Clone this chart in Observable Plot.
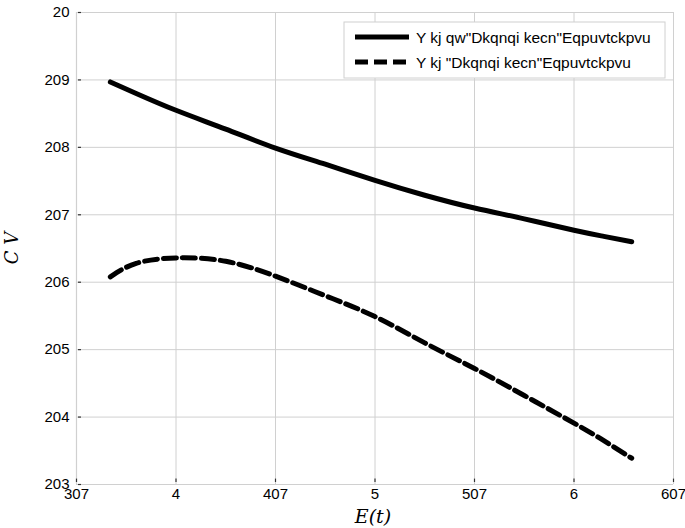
<!DOCTYPE html>
<html>
<head>
<meta charset="utf-8">
<script src="https://cdn.jsdelivr.net/npm/d3@7"></script>
<script src="https://cdn.jsdelivr.net/npm/@observablehq/plot@0.6"></script>
<style>
html,body{margin:0;padding:0;background:#fff;}
#chart{width:685px;height:528px;}
</style>
</head>
<body>
<div id="chart"></div>
<script>
// x values (shared by both series)
const xs = [3.67, 3.8, 4.0, 4.25, 4.5, 4.75, 5.0, 5.25, 5.5, 5.75, 6.0, 6.15, 6.29];
// series values
const withoutBio = [0.897, 0.880, 0.855, 0.827, 0.799, 0.775, 0.751, 0.729, 0.710, 0.694, 0.677, 0.668, 0.660];
const withBio    = [0.608, 0.628, 0.636, 0.631, 0.609, 0.580, 0.549, 0.510, 0.472, 0.432, 0.391, 0.365, 0.339];
const seriesNames = ["Y kj qw\"Dkqnqi kecn\"Eqpuvtckpvu", "Y kj \"Dkqnqi kecn\"Eqpuvtckpvu"];
// ticks and their labels (as printed)
const xTicks = [3.5, 4, 4.5, 5, 5.5, 6, 6.5];
const xTickLabels = ["307", "4", "407", "5", "507", "6", "607"];
const yTicks = [0.3, 0.4, 0.5, 0.6, 0.7, 0.8, 0.9, 1.0];
const yTickLabels = ["203", "204", "205", "206", "207", "208", "209", "20"];
const xLabel = "E(t)";
const yLabel = "C V";

const rows = [];
xs.forEach((x, i) => {
  rows.push({x, y: withoutBio[i], s: seriesNames[0]});
  rows.push({x, y: withBio[i], s: seriesNames[1]});
});

const fmt = (ticks, labels) => v => { const i = ticks.findIndex(t => Math.abs(t - v) < 1e-9); return i >= 0 ? labels[i] : ""; };

const plot = Plot.plot({
  width: 685,
  height: 528,
  marginLeft: 76,
  marginRight: 12,
  marginTop: 12,
  marginBottom: 44,
  style: {fontFamily: "'Liberation Sans', Arial, sans-serif", fontSize: "15px", color: "#000", background: "#fff"},
  x: {type: "linear", domain: [3.5, 6.5], label: null},
  y: {type: "linear", domain: [0.3, 1.0], label: null},
  marks: [
    Plot.gridX(xTicks, {stroke: "#d0d0d0", strokeOpacity: 1}),
    Plot.gridY(yTicks, {stroke: "#d0d0d0", strokeOpacity: 1}),
    Plot.axisX({ticks: xTicks, tickFormat: fmt(xTicks, xTickLabels), tickSize: 0, tickPadding: 4, fontSize: 15, label: null}),
    Plot.axisY({ticks: yTicks, tickFormat: fmt(yTicks, yTickLabels), tickSize: 0, tickPadding: 7, fontSize: 15, label: null}),
    Plot.ruleY([0.3], {stroke: "#d0d0d0", strokeWidth: 1.2}),
    Plot.ruleX([3.5], {stroke: "#d0d0d0", strokeWidth: 1.2}),
    Plot.ruleX(xTicks, {x: d => d, y1: 0.303, y2: 0.308, stroke: "#333", strokeWidth: 1.2}),
    Plot.ruleY(yTicks, {y: d => d, x1: 3.51, x2: 3.525, stroke: "#333", strokeWidth: 1.2}),
    Plot.line(rows.filter(r => r.s === seriesNames[0]), {x: "x", y: "y", stroke: "#000", strokeWidth: 5, curve: "natural"}),
    Plot.line(rows.filter(r => r.s === seriesNames[1]), {x: "x", y: "y", stroke: "#000", strokeWidth: 5, strokeDasharray: "13,6", curve: "natural"})
  ]
});

const svg = d3.select(plot);
// axis labels
svg.append("text").attr("x", 373).attr("y", 523).attr("text-anchor", "middle")
  .attr("font-family", "'DejaVu Serif', 'Liberation Serif', serif").attr("font-style", "italic")
  .attr("font-size", 19).attr("fill", "#000").text(xLabel);
svg.append("text").attr("transform", "translate(18,248) rotate(-90)").attr("text-anchor", "middle")
  .attr("font-family", "'DejaVu Serif', 'Liberation Serif', serif").attr("font-style", "italic")
  .attr("font-size", 18).attr("fill", "#000").text(yLabel);

// legend
const lg = svg.append("g").attr("transform", "translate(344,22)");
lg.append("rect").attr("width", 321).attr("height", 56).attr("fill", "#fff").attr("stroke", "#d0d0d0");
[0, 1].forEach(i => {
  const y = 15 + i * 25;
  lg.append("line").attr("x1", 11).attr("x2", 65).attr("y1", y).attr("y2", y)
    .attr("stroke", "#000").attr("stroke-width", 5)
    .attr("stroke-dasharray", i === 1 ? "13,6" : null);
  lg.append("text").attr("x", 72).attr("y", y + 5.5).attr("text-anchor", "start")
    .attr("font-family", "'Liberation Sans', Arial, sans-serif").attr("font-size", 15.5)
    .attr("fill", "#000").text(seriesNames[i]);
});

document.getElementById("chart").appendChild(plot);
</script>
</body>
</html>
